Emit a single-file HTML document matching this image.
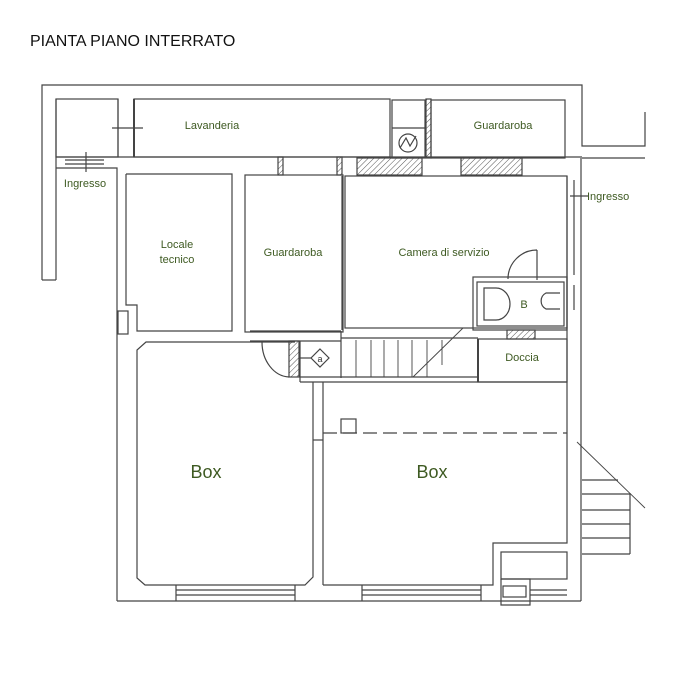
<!DOCTYPE html>
<html><head><meta charset="utf-8"><style>
html,body{margin:0;padding:0;background:#fff;width:693px;height:698px;overflow:hidden}
svg{display:block}
text{font-family:"Liberation Sans",sans-serif;fill:#3e5a22}
</style></head><body>
<svg width="693" height="698" viewBox="0 0 693 698" xmlns="http://www.w3.org/2000/svg">
<defs>
<pattern id="h" width="4" height="4" patternUnits="userSpaceOnUse" patternTransform="rotate(45)">
<line x1="0" y1="0" x2="0" y2="4" stroke="#555" stroke-width="1"/></pattern>
</defs>
<text x="30" y="46" style="fill:#111;font-size:16px">PIANTA PIANO INTERRATO</text>
<g fill="none" stroke="#444" stroke-width="1.2">
<!-- outer top / left -->
<polyline points="42,280 42,85 582,85 582,146 645,146 645,112"/>
<polyline points="56,280 56,99"/>
<line x1="42" y1="280" x2="56" y2="280"/>
<line x1="582" y1="158" x2="645" y2="158"/>
<!-- top row -->
<rect x="56" y="99" width="62" height="58"/>
<rect x="134" y="99" width="256" height="58"/>
<line x1="118" y1="99" x2="118" y2="157"/>
<line x1="134" y1="99" x2="134" y2="157" stroke-width="2"/>
<line x1="112" y1="128" x2="143" y2="128"/>
<rect x="392" y="100" width="33" height="58"/>
<line x1="392" y1="128" x2="425" y2="128"/>
<circle cx="408" cy="143" r="9"/>
<polyline points="400,148 406,138 410,146 416,136"/>
<rect x="426" y="99" width="5" height="59" fill="url(#h)"/>
<rect x="431" y="100" width="134" height="58"/>
<line x1="56" y1="157" x2="582" y2="157"/>
<!-- ingresso left -->
<line x1="65" y1="160" x2="104" y2="160"/><line x1="65" y1="164" x2="104" y2="164"/>
<line x1="86" y1="152" x2="86" y2="172"/>
<polyline points="56,168 117,168 117,601"/>
<!-- corridor hatches -->
<rect x="278" y="157" width="5" height="18" fill="url(#h)"/>
<rect x="337" y="157" width="5" height="18" fill="url(#h)"/>
<rect x="357" y="158" width="65" height="17" fill="url(#h)"/>
<rect x="461" y="158" width="61" height="17" fill="url(#h)"/>
<!-- rooms -->
<polyline points="126,174 232,174 232,331 137,331 137,305 126,305 126,174"/>
<rect x="245" y="175" width="98" height="157"/>
<rect x="345" y="176" width="222" height="152"/>
<line x1="342" y1="176" x2="342" y2="330"/>
<rect x="118" y="311" width="10" height="23"/>
<!-- right wall -->
<line x1="567" y1="176" x2="567" y2="382"/>
<line x1="581" y1="158" x2="581" y2="601"/>
<line x1="574" y1="180" x2="574" y2="275"/>
<line x1="570" y1="196" x2="588" y2="196"/>
<line x1="574" y1="285" x2="574" y2="310"/>
<!-- bath -->
<rect x="473" y="277" width="94" height="53"/>
<rect x="477" y="282" width="87" height="44"/>
<path d="M484,288 h12 a14,16 0 0 1 0,32 h-12 z"/>
<path d="M560,293 h-14 a9,9 0 0 0 0,16 h14"/>
<path d="M537,250 v30 M537,250 a29,29 0 0 0 -29,29"/>
<rect x="507" y="330" width="28" height="9" fill="url(#h)"/>
<!-- doccia -->
<rect x="478" y="339" width="89" height="43"/>
<line x1="478" y1="339" x2="478" y2="382" stroke-width="2"/>
<!-- stair / corridor -->
<line x1="250" y1="331" x2="341" y2="331"/>
<line x1="250" y1="341" x2="341" y2="341"/>
<line x1="341" y1="331" x2="341" y2="378"/>
<line x1="341" y1="338" x2="478" y2="338"/>
<line x1="300" y1="377" x2="478" y2="377"/>
<line x1="300" y1="382" x2="567" y2="382"/>
<line x1="300" y1="341" x2="300" y2="382"/>
<g stroke-width="0.9">
<line x1="356" y1="340" x2="356" y2="377"/><line x1="371" y1="340" x2="371" y2="377"/>
<line x1="384" y1="340" x2="384" y2="377"/><line x1="398" y1="340" x2="398" y2="377"/>
<line x1="412" y1="340" x2="412" y2="377"/><line x1="427" y1="340" x2="427" y2="377"/>
<line x1="442" y1="340" x2="442" y2="365"/>
<line x1="413" y1="377" x2="463" y2="328"/>
</g>
<rect x="289" y="341" width="10" height="36" fill="url(#h)"/>
<path d="M262,342 a28,35 0 0 0 27,35"/>
<path d="M320,349 l9,9 -9,9 -9,-9 z"/>
<line x1="299" y1="358" x2="311" y2="358"/>
<!-- box 1 -->
<polyline points="295,342 146,342 137,350 137,578 145,585 305,585 313,577 313,382"/>
<line x1="323" y1="382" x2="323" y2="585"/>
<line x1="313" y1="440" x2="323" y2="440"/>
<!-- box 2 -->
<polyline points="323,585 493,585 493,543 567,543 567,382"/>
<line x1="323" y1="433" x2="567" y2="433" stroke-dasharray="14,6"/>
<rect x="341" y="419" width="15" height="14"/>
<rect x="501" y="552" width="66" height="27"/>
<polyline points="501,579 530,579 530,605 501,605 501,579"/>
<rect x="503" y="586" width="23" height="11"/>
<!-- bottom -->
<line x1="117" y1="601" x2="581" y2="601"/>
<line x1="176" y1="585" x2="176" y2="601"/><line x1="295" y1="585" x2="295" y2="601"/>
<line x1="176" y1="590" x2="295" y2="590"/><line x1="176" y1="595" x2="295" y2="595"/>
<line x1="362" y1="585" x2="362" y2="601"/><line x1="481" y1="585" x2="481" y2="601"/>
<line x1="362" y1="590" x2="481" y2="590"/><line x1="362" y1="595" x2="481" y2="595"/>
<line x1="530" y1="590" x2="567" y2="590"/><line x1="530" y1="595" x2="567" y2="595"/>
<!-- external stair -->
<line x1="577" y1="442" x2="645" y2="508" stroke-width="0.9"/>
<line x1="630" y1="493" x2="630" y2="554"/>
<line x1="582" y1="480" x2="618" y2="480"/><line x1="582" y1="494" x2="630" y2="494"/>
<line x1="582" y1="510" x2="630" y2="510"/><line x1="582" y1="524" x2="630" y2="524"/>
<line x1="582" y1="538" x2="630" y2="538"/><line x1="582" y1="554" x2="630" y2="554"/>
</g>
<g font-size="11">
<text x="212" y="129" text-anchor="middle">Lavanderia</text>
<text x="503" y="129" text-anchor="middle">Guardaroba</text>
<text x="85" y="187" text-anchor="middle">Ingresso</text>
<text x="587" y="200">Ingresso</text>
<text x="177" y="248" text-anchor="middle">Locale</text>
<text x="177" y="263" text-anchor="middle">tecnico</text>
<text x="293" y="256" text-anchor="middle">Guardaroba</text>
<text x="444" y="256" text-anchor="middle">Camera di servizio</text>
<text x="524" y="308" text-anchor="middle">B</text>
<text x="522" y="361" text-anchor="middle">Doccia</text>
<text x="206" y="478" text-anchor="middle" font-size="18">Box</text>
<text x="432" y="478" text-anchor="middle" font-size="18">Box</text>
<text x="320" y="362" text-anchor="middle" font-size="9" style="fill:#333">a</text>
</g>
</svg>
</body></html>
